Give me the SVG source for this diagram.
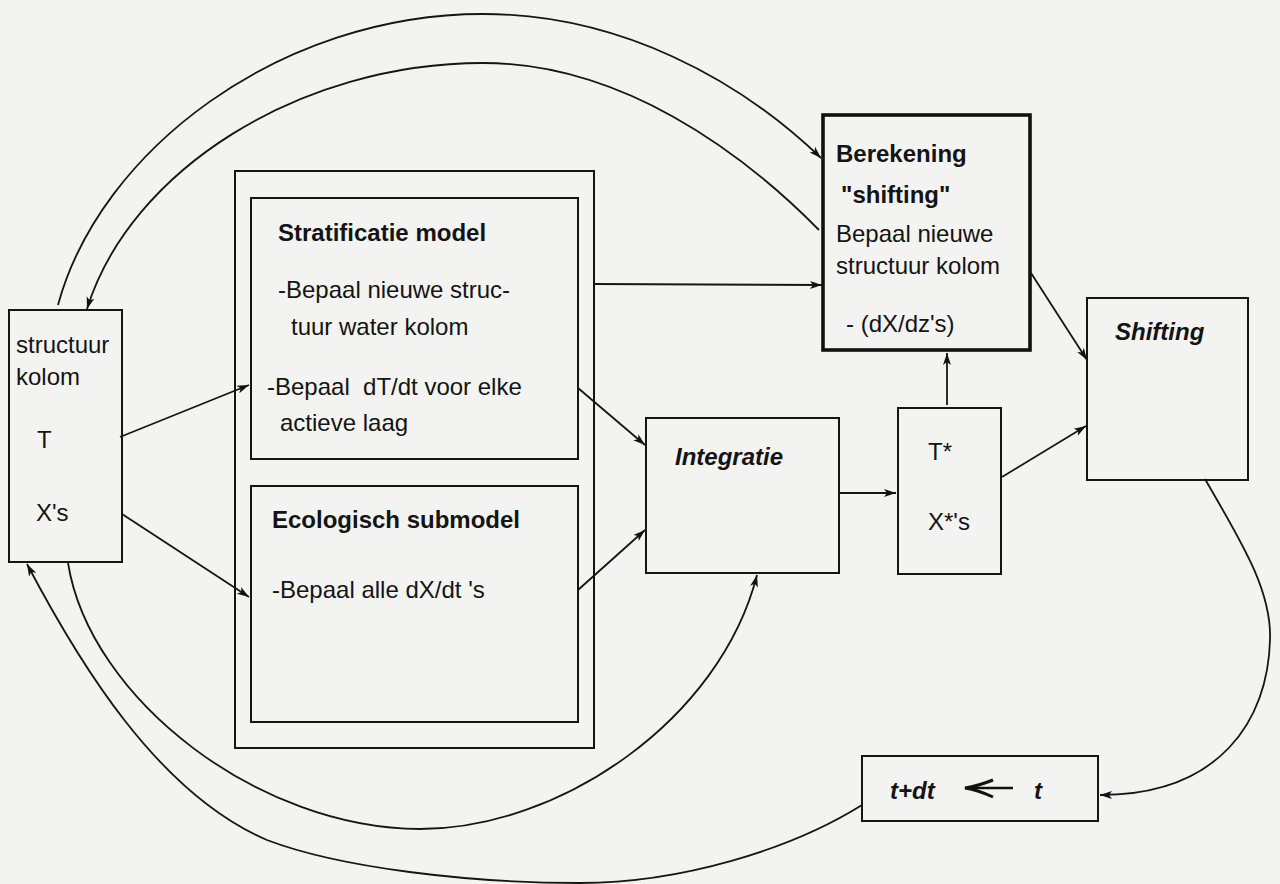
<svg xmlns="http://www.w3.org/2000/svg" width="1280" height="884" viewBox="0 0 1280 884">
<style>
.box{fill:none;stroke:#151515;stroke-width:2}
.thick{fill:none;stroke:#111;stroke-width:3.6}
.ln{fill:none;stroke:#151515;stroke-width:1.8}
text{font-family:"Liberation Sans",Arial,Helvetica,sans-serif;font-size:24px;fill:#141414}
.b{font-weight:bold}
.bi{font-weight:bold;font-style:italic}
</style>
<defs>
<marker id="ah" markerWidth="14" markerHeight="10" refX="12" refY="5" orient="auto" markerUnits="userSpaceOnUse">
<path d="M0,1 L12,5 L0,9 L3,5 z" fill="#111"/>
</marker>
</defs>
<rect width="1280" height="884" fill="#f3f3f1"/>

<g id="structuur">
<rect class="box" x="9" y="310" width="113" height="252"/>
<text x="16" y="353">structuur</text>
<text x="16" y="385">kolom</text>
<text x="37" y="448">T</text>
<text x="36" y="521">X's</text>
</g>

<g id="container">
<rect class="box" x="235" y="171" width="359" height="577"/>
</g>

<g id="stratificatie">
<rect class="box" x="251" y="198" width="327" height="261"/>
<text class="b" x="278" y="241">Stratificatie model</text>
<text x="278" y="298">-Bepaal nieuwe struc-</text>
<text x="291" y="335">tuur water kolom</text>
<text x="267" y="395" xml:space="preserve">-Bepaal  dT/dt voor elke</text>
<text x="280" y="431">actieve laag</text>
</g>

<g id="ecologisch">
<rect class="box" x="251" y="486" width="327" height="236"/>
<text class="b" x="272" y="528">Ecologisch submodel</text>
<text x="272" y="598">-Bepaal alle dX/dt 's</text>
</g>

<g id="berekening">
<rect class="thick" x="823" y="115" width="207" height="235"/>
<text class="b" x="836" y="162">Berekening</text>
<text class="b" x="841" y="203">"shifting"</text>
<text x="836" y="242">Bepaal nieuwe</text>
<text x="836" y="274">structuur kolom</text>
<text x="846" y="332">- (dX/dz's)</text>
</g>

<g id="integratie">
<rect class="box" x="646" y="418" width="193" height="155"/>
<text class="bi" x="675" y="465">Integratie</text>
</g>

<g id="tstar">
<rect class="box" x="898" y="408" width="103" height="166"/>
<text x="928" y="460">T*</text>
<text x="928" y="530">X*'s</text>
</g>

<g id="shifting">
<rect class="box" x="1087" y="298" width="161" height="182"/>
<text class="bi" x="1115" y="340">Shifting</text>
</g>

<g id="tijdstap">
<rect class="box" x="862" y="756" width="236" height="65"/>
<text class="bi" x="890" y="799">t+dt</text>
<path d="M1013,788 L967,788" fill="none" stroke="#111" stroke-width="2.4"/>
<path d="M993,780 Q978,786 965,788 Q978,790 993,797" fill="none" stroke="#111" stroke-width="3"/>
<text class="bi" x="1034" y="799">t</text>
</g>

<g id="connectors">
<path class="ln" d="M120,437 L249,385" marker-end="url(#ah)"/>
<path class="ln" d="M122,514 L249,597" marker-end="url(#ah)"/>
<path class="ln" d="M578,388 L645,445" marker-end="url(#ah)"/>
<path class="ln" d="M578,590 L645,530" marker-end="url(#ah)"/>
<path class="ln" d="M594,284 L822,285" marker-end="url(#ah)"/>
<path class="ln" d="M840,493 L896,493" marker-end="url(#ah)"/>
<path class="ln" d="M947,405 L947,353" marker-end="url(#ah)"/>
<path class="ln" d="M1002,477 L1086,426" marker-end="url(#ah)"/>
<path class="ln" d="M1031,273 L1087,360" marker-end="url(#ah)"/>
<path class="ln" d="M58,305 C100,150 280,14 483,14 C620,14 740,80 821,158" marker-end="url(#ah)"/>
<path class="ln" d="M819,230 C740,150 620,63 483,63 C300,63 130,170 87,309" marker-end="url(#ah)"/>
<path class="ln" d="M862,805 C790,850 680,883 580,883 C470,883 340,868 267,840 C157,793 78,661 27,564" marker-end="url(#ah)"/>
<path class="ln" d="M68,563 C90,700 260,829 420,829 C560,829 720,720 757,575" marker-end="url(#ah)"/>
<path class="ln" d="M1205,479 C1240,540 1272,590 1270,640 C1268,720 1220,795 1100,795" marker-end="url(#ah)"/>
</g>
</svg>
